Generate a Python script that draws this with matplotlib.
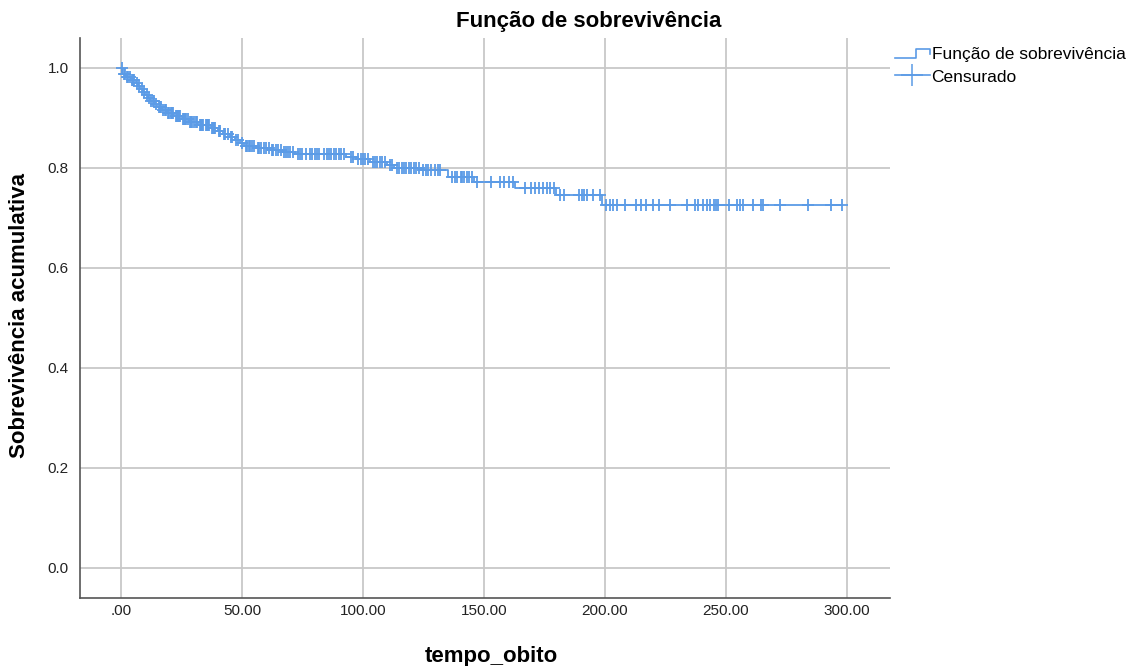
import numpy as np
import matplotlib.pyplot as plt
from matplotlib.lines import Line2D
from matplotlib.legend_handler import HandlerBase

plt.rcParams['font.family'] = ['Liberation Sans', 'DejaVu Sans']

# Kaplan-Meier steps (time of event, survival after the event)
event_t = [0.5, 2, 4, 6, 7, 8, 9, 10, 11, 12, 14, 15, 17, 19, 22, 25, 28, 32,
           37, 40, 42, 45, 47, 49, 51, 56, 62, 67, 72, 93, 97, 103, 110, 113,
           124, 135, 146, 163, 180, 199]
event_s = [0.988, 0.982, 0.976, 0.970, 0.964, 0.958, 0.952, 0.946, 0.940, 0.934,
           0.928, 0.922, 0.916, 0.910, 0.904, 0.898, 0.892, 0.886, 0.880, 0.874,
           0.868, 0.862, 0.856, 0.850, 0.844, 0.840, 0.836, 0.832, 0.828, 0.822,
           0.818, 0.812, 0.806, 0.800, 0.795, 0.782, 0.772, 0.760, 0.746, 0.726]

# censored observations
censor_t = [0.3, 1, 1.5, 2.5, 3, 3.5, 4.5, 5, 5.5, 6.5, 7.5, 8.5, 9.5, 10.5, 11.5,
            12.5, 13, 13.5, 14.5, 15.5, 16, 16.5, 17.5, 18, 18.5, 19.5, 20, 20.5,
            21, 21.5, 22.5, 23, 23.5, 24, 24.5, 25.5, 26, 26.5, 27, 27.5, 28.5, 29,
            29.5, 30, 31, 31.5, 32.5, 33, 33.5, 34, 35, 35.5, 36, 36.5, 37.5, 38,
            38.5, 39, 40.5, 41, 42.5, 43, 44, 45.5, 46, 47.5, 48.5, 50, 51.5, 52,
            53, 53.5, 54, 55, 56.5, 57, 58, 59, 60, 61, 62.5, 63, 64, 65, 66, 67.5,
            68, 69, 70, 71, 73, 74, 75, 76.5, 78, 79, 80, 81, 82, 84, 85, 86, 87,
            88, 89, 90, 91, 92, 95, 96, 98, 99, 100, 101, 102, 104, 105, 106, 107,
            108, 109, 111, 112, 114, 115, 116, 117, 118, 119, 120, 121, 122, 123,
            125, 126, 127, 128, 130, 131, 132, 137, 138, 139, 140.5, 141, 142, 143,
            144, 145, 147, 153, 156.5, 158.5, 160.5, 162, 167, 169.5, 171, 173,
            174.5, 176, 177.5, 179, 181.5, 183, 189.5, 190.5, 191.5, 192.5, 195,
            198, 200.5, 202, 203.5, 205, 208.5, 213, 215, 217, 220, 222.5, 227,
            234, 237.5, 238.5, 240.5, 242.5, 243.5, 245, 246, 247, 251.5, 254.5,
            256, 257, 261.5, 264.5, 265.5, 272.5, 284, 293.5, 298]

xticks = [0, 50, 100, 150, 200, 250, 300]
xtick_labels = ['.00', '50.00', '100.00', '150.00', '200.00', '250.00', '300.00']
yticks = [0.0, 0.2, 0.4, 0.6, 0.8, 1.0]
ytick_labels = ['0.0', '0.2', '0.4', '0.6', '0.8', '1.0']

blue = '#5b9be6'

fig = plt.figure(figsize=(11.43, 6.66), dpi=100)
ax = fig.add_axes([0.07, 0.1021, 0.7087, 0.8409])

# step curve
st = np.array([0] + event_t + [max(censor_t)])
ss = np.array([1.0] + event_s + [event_s[-1]])
ax.step(st, ss, where='post', color=blue, lw=1.3, zorder=3)

# censor marks at curve height
idx = np.searchsorted(np.array(event_t), np.array(censor_t), side='right')
cs = np.concatenate([[1.0], event_s])[idx]
ax.plot(censor_t, cs, ls='none', marker='+', ms=9, mew=1.3, color=blue, zorder=4)

ax.set_xlim(-17, 318)
ax.set_ylim(-0.06, 1.06)
ax.set_xticks(xticks)
ax.set_xticklabels(xtick_labels)
ax.set_yticks(yticks)
ax.set_yticklabels(ytick_labels)
ax.tick_params(length=0, labelsize=11, colors='#222222')
ax.tick_params(axis='x', pad=4)
ax.tick_params(axis='y', pad=8)
ax.grid(True, color='#c8c8c8', lw=1.3)
ax.set_axisbelow(True)
for s in ['top', 'right']:
    ax.spines[s].set_visible(False)
for s in ['left', 'bottom']:
    ax.spines[s].set_color('#555555')
    ax.spines[s].set_linewidth(1.2)

fig.text(0.515, 0.968, 'Função de sobrevivência', ha='center', va='center',
         fontsize=16, fontweight='bold')
fig.text(0.43, 0.015, 'tempo_obito', ha='center', va='center',
         fontsize=16, fontweight='bold')
fig.text(0.017, 0.527, 'Sobrevivência acumulativa', ha='center', va='center',
         rotation=90, fontsize=16, fontweight='bold')


class StepHandler(HandlerBase):
    def create_artists(self, legend, orig_handle, xdescent, ydescent,
                       width, height, fontsize, trans):
        x0 = -xdescent
        xs = [x0, x0 + 0.6 * width, x0 + 0.6 * width, x0 + width, x0 + width]
        ys = [0.1 * height, 0.1 * height, 0.85 * height, 0.85 * height, 0.45 * height]
        ln = Line2D(xs, ys, color=blue, lw=1.2)
        ln.set_transform(trans)
        return [ln]


h1 = Line2D([], [], color=blue)
h2 = Line2D([], [], color=blue, lw=1.2, marker='+', ms=16, mew=1.1)
leg = fig.legend([h1, h2], ['Função de sobrevivência', 'Censurado'],
                 handler_map={h1: StepHandler()}, loc='upper left',
                 bbox_to_anchor=(0.777, 0.94), frameon=False, fontsize=12.5,
                 handlelength=2.0, handletextpad=0.1, labelspacing=0.42,
                 numpoints=1, borderaxespad=0)

fig.savefig('out.png', dpi=100)
